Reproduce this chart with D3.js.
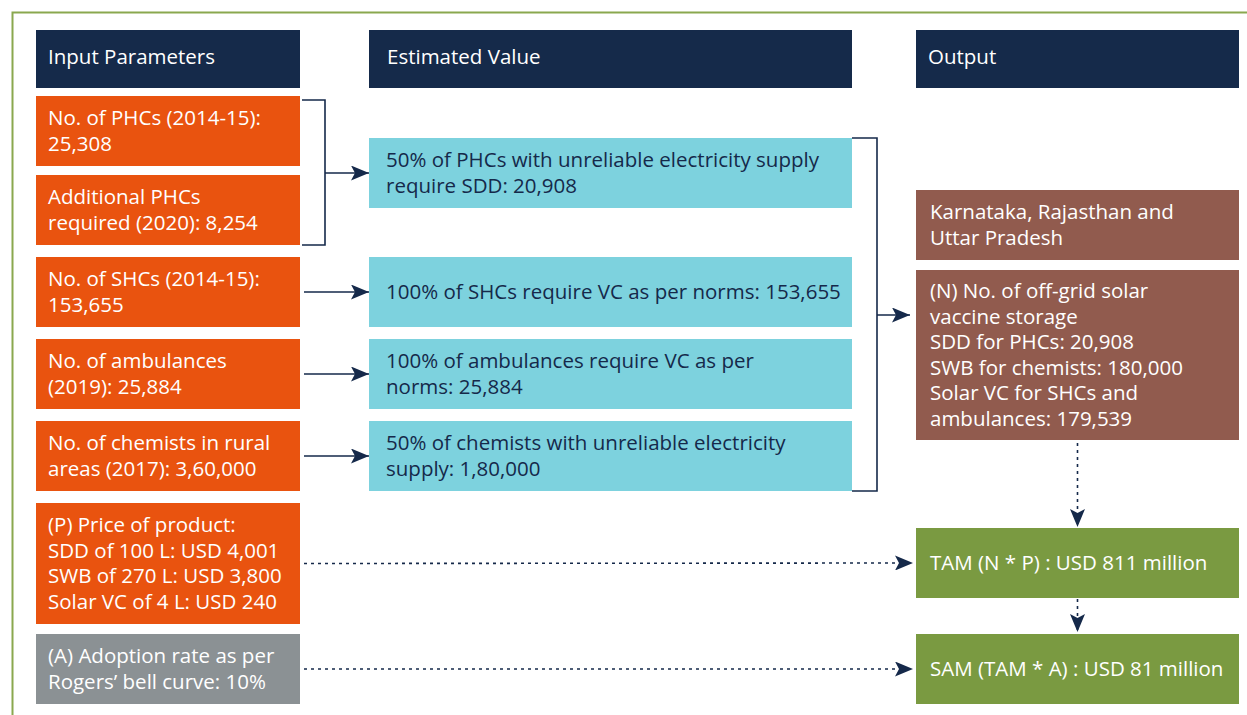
<!DOCTYPE html>
<html>
<head>
<meta charset="utf-8">
<script src="https://cdn.jsdelivr.net/npm/d3@7"></script>
<style>
  body { margin: 0; background: #fff; }
  svg text { font-family: "Open Sans", Lato, sans-serif; }
</style>
</head>
<body>
<div id="flow"></div>
<script>
var svgWidth = 1247;
var svgHeight = 715;

// Diagram content
var headers = ["Input Parameters", "Estimated Value", "Output"];

var inputs = [
  ["No. of PHCs (2014-15):", "25,308"],
  ["Additional PHCs", "required (2020): 8,254"],
  ["No. of SHCs (2014-15):", "153,655"],
  ["No. of ambulances", "(2019): 25,884"],
  ["No. of chemists in rural", "areas (2017): 3,60,000"],
  ["(P) Price of product:", "SDD of 100 L: USD 4,001", "SWB of 270 L: USD 3,800", "Solar VC of 4 L: USD 240"],
  ["(A) Adoption rate as per", "Rogers\u2019 bell curve: 10%"]
];
var inputKinds = ["orange", "orange", "orange", "orange", "orange", "orange", "gray"];

var estimates = [
  ["50% of PHCs with unreliable electricity supply", "require SDD: 20,908"],
  ["100% of SHCs require VC as per norms: 153,655"],
  ["100% of ambulances require VC as per", "norms: 25,884"],
  ["50% of chemists with unreliable electricity", "supply: 1,80,000"]
];

var outputs = [
  ["Karnataka, Rajasthan and", "Uttar Pradesh"],
  ["(N) No. of off-grid solar", "vaccine storage", "SDD for PHCs: 20,908", "SWB for chemists: 180,000", "Solar VC for SHCs and", "ambulances: 179,539"],
  ["TAM (N * P) : USD 811 million"],
  ["SAM (TAM * A) : USD 81 million"]
];
var outputKinds = ["brown", "brown", "green", "green"];

// Layout (pixels)
var colX = d3.scaleOrdinal().domain(["input", "estimate", "output"]).range([36, 369, 916]);
var colW = d3.scaleOrdinal().domain(["input", "estimate", "output"]).range([264, 483, 323]);
var inputRows = [[96, 70], [175, 70], [257, 70], [339, 70], [421, 70], [503, 121], [634, 70]];
var estimateRows = [[138, 70], [257, 70], [339, 70], [421, 70]];
var outputRows = [[190, 70], [270, 170], [528, 70], [634, 70]];
var headerY = 30, headerH = 58;
var lineH = 25.6;
var fontSize = "20.5px";

var fills = {
  navy: "#152a4a", orange: "#e9530f", gray: "#8b9194",
  cyan: "#7dd2de", brown: "#915b4e", green: "#7a9a41"
};
var ink = "#15294a";

var svg = d3.select("#flow")
  .append("svg")
  .attr("width", svgWidth)
  .attr("height", svgHeight);

var defs = svg.append("defs");
defs.append("marker")
  .attr("id", "head")
  .attr("viewBox", "0 0 18 15")
  .attr("refX", 18)
  .attr("refY", 7.5)
  .attr("markerWidth", 18)
  .attr("markerHeight", 15)
  .attr("markerUnits", "userSpaceOnUse")
  .attr("orient", "auto")
  .append("path")
  .attr("d", "M0,0 L18,7.5 L0,15 L4,7.5 Z")
  .attr("fill", ink);

// outer frame
svg.append("path")
  .attr("d", "M12.5," + (svgHeight + 5) + " V12.5 H" + (svgWidth + 5))
  .attr("fill", "none")
  .attr("stroke", "#8aa84f")
  .attr("stroke-width", 2);

// draw a column of boxes with multiline text
function drawBoxes(col, rows, texts, kinds, textColor, padX) {
  var g = svg.append("g").attr("class", col);
  var box = g.selectAll("g")
    .data(texts)
    .enter()
    .append("g");

  box.append("rect")
    .attr("x", colX(col))
    .attr("y", (d, i) => rows[i][0])
    .attr("width", colW(col))
    .attr("height", (d, i) => rows[i][1])
    .attr("fill", (d, i) => fills[kinds[i]]);

  box.each(function(lines, i) {
    var cy = rows[i][0] + rows[i][1] / 2;
    var y0 = cy - (lines.length - 1) * lineH / 2 + 7;
    d3.select(this).selectAll("text")
      .data(lines)
      .enter()
      .append("text")
      .attr("x", colX(col) + padX)
      .attr("y", (t, j) => y0 + j * lineH)
      .attr("font-size", fontSize)
      .attr("fill", textColor)
      .text(t => t);
  });
}

// headers
var hdr = svg.append("g").selectAll("g")
  .data(headers)
  .enter()
  .append("g");
var hdrCols = ["input", "estimate", "output"];
hdr.append("rect")
  .attr("x", (d, i) => colX(hdrCols[i]))
  .attr("y", headerY)
  .attr("width", (d, i) => colW(hdrCols[i]))
  .attr("height", headerH)
  .attr("fill", fills.navy);
hdr.append("text")
  .attr("x", (d, i) => colX(hdrCols[i]) + (i === 1 ? 18 : 12))
  .attr("y", headerY + headerH / 2 + 5)
  .attr("font-size", fontSize)
  .attr("fill", "#fff")
  .text(d => d);

drawBoxes("input", inputRows, inputs, inputKinds, "#fff", 12);
drawBoxes("estimate", estimateRows, estimates, estimates.map(() => "cyan"), ink, 17);
drawBoxes("output", outputRows, outputs, outputKinds, "#fff", 14);

// connectors
var conn = svg.append("g")
  .attr("fill", "none")
  .attr("stroke", ink)
  .attr("stroke-width", 1.6);

var inRight = colX("input") + colW("input");
var estLeft = colX("estimate");
var estRight = estLeft + colW("estimate");
var outLeft = colX("output");
var outMid = outLeft + colW("output") / 2;
var mid = r => r[0] + r[1] / 2;

// bracket joining the two PHC inputs
var bx = inRight + 25;
conn.append("path")
  .attr("d", `M${inRight + 2},${inputRows[0][0] + 4} H${bx} V${inputRows[1][0] + inputRows[1][1]} H${inRight + 2}`);
conn.append("line")
  .attr("x1", bx).attr("y1", mid(estimateRows[0]))
  .attr("x2", estLeft).attr("y2", mid(estimateRows[0]))
  .attr("marker-end", "url(#head)");

// straight arrows for SHC, ambulance, chemist rows
[2, 3, 4].forEach(function(r, k) {
  conn.append("line")
    .attr("x1", inRight + 4).attr("y1", mid(inputRows[r]))
    .attr("x2", estLeft).attr("y2", mid(estimateRows[k + 1]))
    .attr("marker-end", "url(#head)");
});

// bracket joining estimates to output
var bx2 = estRight + 25;
conn.append("path")
  .attr("d", `M${estRight},${estimateRows[0][0]} H${bx2} V${estimateRows[3][0] + estimateRows[3][1]} H${estRight}`);
conn.append("line")
  .attr("x1", bx2).attr("y1", 315)
  .attr("x2", outLeft - 6).attr("y2", 315)
  .attr("marker-end", "url(#head)");

// dotted arrows
var dots = svg.append("g")
  .attr("fill", "none")
  .attr("stroke", ink)
  .attr("stroke-width", 1.6)
  .attr("stroke-dasharray", "3,4");

dots.append("line")
  .attr("x1", inRight + 4).attr("y1", mid(inputRows[5]))
  .attr("x2", outLeft - 3).attr("y2", mid(outputRows[2]))
  .attr("marker-end", "url(#head)");
dots.append("line")
  .attr("x1", inRight + 4).attr("y1", mid(inputRows[6]))
  .attr("x2", outLeft - 3).attr("y2", mid(outputRows[3]))
  .attr("marker-end", "url(#head)");
dots.append("line")
  .attr("x1", outMid).attr("y1", outputRows[1][0] + outputRows[1][1] + 3)
  .attr("x2", outMid).attr("y2", outputRows[2][0] - 1)
  .attr("marker-end", "url(#head)");
dots.append("line")
  .attr("x1", outMid).attr("y1", outputRows[2][0] + outputRows[2][1] + 1)
  .attr("x2", outMid).attr("y2", outputRows[3][0] - 2)
  .attr("marker-end", "url(#head)");
</script>
</body>
</html>
